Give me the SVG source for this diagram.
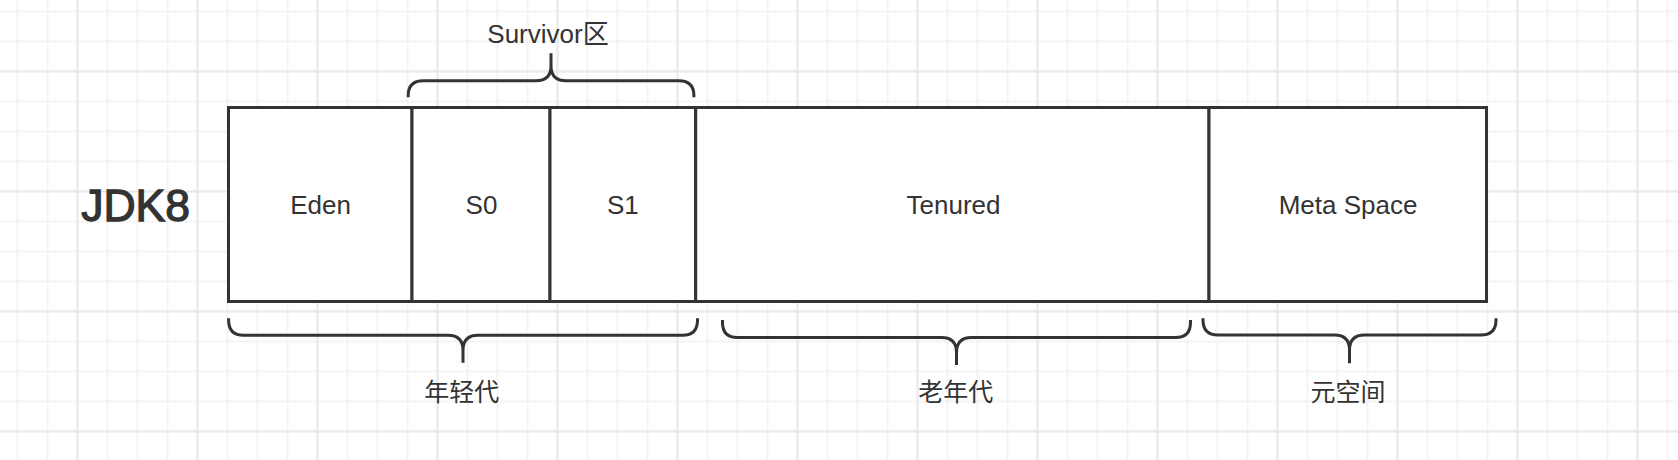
<svg xmlns="http://www.w3.org/2000/svg" width="1678" height="460" viewBox="0 0 1678 460">
  <defs>
    <pattern id="gMinor" x="2.5" y="-3.5" width="30" height="30" patternUnits="userSpaceOnUse">
      <path d="M15 0 V30 M0 15 H30" stroke="#f1f1f1" stroke-width="1.5" fill="none"/>
    </pattern>
    <pattern id="gMajor" x="17.5" y="11.5" width="120" height="120" patternUnits="userSpaceOnUse">
      <path d="M60 0 V120 M0 60 H120" stroke="#e6e6e6" stroke-width="1.5" fill="none"/>
    </pattern>
  </defs>
  <style>
    .cell { fill: #ffffff; stroke: #333333; stroke-width: 3; }
    .brace { fill: none; stroke: #333333; stroke-width: 3; stroke-linecap: butt; stroke-linejoin: round; }
    .lbl { font-family: "Liberation Sans", "Noto Sans CJK SC", sans-serif; font-size: 26px; fill: #333333; text-anchor: middle; }
    .cjk { font-family: "Liberation Sans", "Noto Sans CJK SC", sans-serif; font-size: 25px; fill: #333333; text-anchor: middle; }
    .title { font-family: "Liberation Sans", "Noto Sans CJK SC", sans-serif; font-size: 44.5px; fill: #333333; stroke: #333333; stroke-width: 1.3; text-anchor: middle; }
  </style>

  <rect width="1678" height="460" fill="#ffffff"/>
  <rect width="1678" height="460" fill="url(#gMinor)"/>
  <rect width="1678" height="460" fill="url(#gMajor)"/>

  <g id="jdk8-label">
    <text class="title" x="135.6" y="220.7">JDK8</text>
  </g>

  <g id="eden">
    <rect class="cell" x="228.5" y="107.5" width="183.5" height="194"/>
    <text class="lbl" x="320.5" y="214">Eden</text>
  </g>
  <g id="s0">
    <rect class="cell" x="412" y="107.5" width="138" height="194"/>
    <text class="lbl" x="481.5" y="214">S0</text>
  </g>
  <g id="s1">
    <rect class="cell" x="550" y="107.5" width="145.7" height="194"/>
    <text class="lbl" x="622.9" y="214">S1</text>
  </g>
  <g id="tenured">
    <rect class="cell" x="695.7" y="107.5" width="513.3" height="194"/>
    <text class="lbl" x="953.5" y="214">Tenured</text>
  </g>
  <g id="metaspace">
    <rect class="cell" x="1209" y="107.5" width="277.5" height="194"/>
    <text class="lbl" x="1348" y="214">Meta Space</text>
  </g>

  <g id="connectors">
    <g id="survivor-brace">
      <path class="brace" d="M408.2 97.3 V95.8 Q408.2 80.8 423.2 80.8 H536 Q551 80.8 551 65.8 V53.3 M693.9 97.3 V95.8 Q693.9 80.8 678.9 80.8 H566 Q551 80.8 551 65.8"/>
    </g>
    <g id="young-brace">
      <path class="brace" d="M228.6 318.3 V320.3 Q228.6 335.3 243.6 335.3 H448 Q463 335.3 463 350.3 V362.7 M697.5 318.3 V320.3 Q697.5 335.3 682.5 335.3 H478 Q463 335.3 463 350.3"/>
    </g>
    <g id="old-brace">
      <path class="brace" d="M722.5 320 V322.5 Q722.5 337.5 737.5 337.5 H941.5 Q956.5 337.5 956.5 352.5 V365 M1190.5 320 V322.5 Q1190.5 337.5 1175.5 337.5 H971.5 Q956.5 337.5 956.5 352.5"/>
    </g>
    <g id="meta-brace">
      <path class="brace" d="M1203 318.3 V320 Q1203 335 1218 335 H1334.5 Q1349.5 335 1349.5 350 V363.3 M1496 318.3 V320 Q1496 335 1481 335 H1364.5 Q1349.5 335 1349.5 350"/>
    </g>
  </g>

  <g id="survivor-label">
    <text class="lbl" x="548" y="43.3">Survivor区</text>
  </g>
  <g id="young-label">
    <text class="cjk" x="461.8" y="401">年轻代</text>
  </g>
  <g id="old-label">
    <text class="cjk" x="955.7" y="401">老年代</text>
  </g>
  <g id="meta-label">
    <text class="cjk" x="1348" y="401">元空间</text>
  </g>
</svg>
